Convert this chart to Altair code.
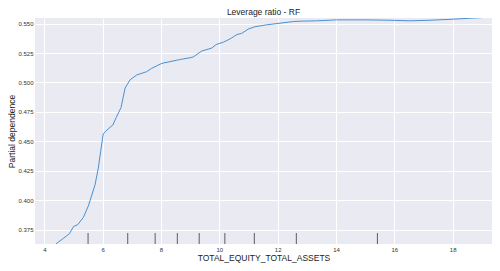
import altair as alt
import pandas as pd

# Partial dependence curve
pd_x = [4.40, 4.86, 5.00, 5.15, 5.34, 5.51, 5.74, 5.85, 5.93, 6.02, 6.19, 6.35,
        6.46, 6.63, 6.77, 6.94, 7.17, 7.51, 7.68, 8.03, 8.54, 8.66, 9.00, 9.11,
        9.40, 9.74, 9.89, 10.14, 10.37, 10.60, 10.77, 10.99, 11.22, 11.62, 12.08,
        12.54, 12.77, 13.34, 14.02, 15.05, 15.85, 16.53, 17.22, 18.02, 18.59, 18.99]
pd_y = [0.3631, 0.3717, 0.3778, 0.3795, 0.3856, 0.3953, 0.4133, 0.4273, 0.4412,
        0.4564, 0.4606, 0.4639, 0.4700, 0.4787, 0.4953, 0.5023, 0.5064, 0.5092,
        0.5120, 0.5162, 0.5189, 0.5195, 0.5210, 0.5217, 0.5267, 0.5292, 0.5322,
        0.5342, 0.5370, 0.5406, 0.5417, 0.5453, 0.5473, 0.5489, 0.5503, 0.5517,
        0.5520, 0.5523, 0.5531, 0.5531, 0.5528, 0.5523, 0.5528, 0.5537, 0.5545,
        0.5550]

# Deciles (rug)
deciles = [5.50, 6.86, 7.80, 8.56, 9.31, 10.19, 11.20, 12.64, 15.42]

x_ticks = [4, 6, 8, 10, 12, 14, 16, 18]
y_ticks = [0.375, 0.400, 0.425, 0.450, 0.475, 0.500, 0.525, 0.550]

W, H = 457, 226

curve = pd.DataFrame({"x": pd_x, "y": pd_y})
rug = pd.DataFrame({"x": deciles})

xscale = alt.Scale(domain=[3.681, 19.348], nice=False, zero=False)
yscale = alt.Scale(domain=[0.363, 0.5547], nice=False, zero=False)

line = alt.Chart(curve).mark_line(color="#4a90d0", strokeWidth=1, clip=True).encode(
    x=alt.X("x:Q", scale=xscale,
            axis=alt.Axis(title="TOTAL_EQUITY_TOTAL_ASSETS", values=x_ticks, format="d",
                          labelPadding=2, titlePadding=1)),
    y=alt.Y("y:Q", scale=yscale,
            axis=alt.Axis(title="Partial dependence", values=y_ticks, format=".3f",
                          labelPadding=2, titleX=-19)),
)

rugs = alt.Chart(rug).mark_rule(color="#444444", strokeWidth=1, opacity=0.85).encode(
    x=alt.X("x:Q", scale=xscale),
    y=alt.value(H - 11),
    y2=alt.value(H),
)

chart = alt.layer(line, rugs).properties(
    width=W, height=H,
    title=alt.TitleParams("Leverage ratio - RF", fontSize=8.5, font="Liberation Sans",
                          fontWeight="normal", color="#222222", offset=2),
    autosize=alt.AutoSizeParams(type="none"),
    padding={"left": 27, "top": 10, "right": 0, "bottom": 19},
).configure_view(
    fill="#EAEAF2", stroke=None
).configure_axis(
    grid=True, gridColor="#FFFFFF", gridWidth=1,
    domain=False, ticks=False,
    labelFont="Liberation Sans", labelFontSize=6, labelColor="#333333",
    titleFont="Liberation Sans", titleFontSize=8.5, titleFontWeight="normal", titleColor="#222222",
)

chart.save("out.html", embed_options={"renderer": "svg", "actions": False})
